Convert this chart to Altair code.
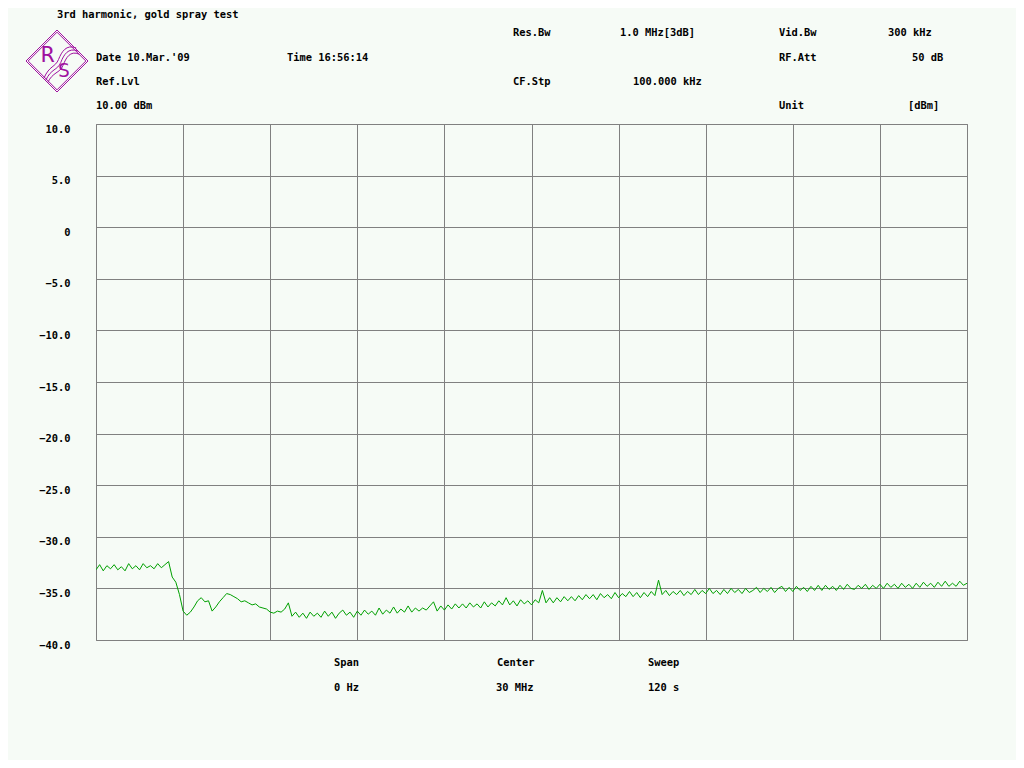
import altair as alt
import pandas as pd

# ---- data (level in dBm, one sample every 0.5 s of a 120 s sweep)
level_a = [-33.2, -32.7, -33.3, -32.8, -33.1, -32.7, -33.2, -32.9, -33.3, -32.6,
           -33.1, -32.8, -33.2, -32.6, -33.0, -32.8, -33.1, -32.6, -33.0, -32.7,
           -32.4]
level_b = [-33.9, -34.4, -35.6, -37.2, -37.6, -37.3, -36.8, -36.2, -35.9, -36.3]
level_c = [-36.2, -37.2, -36.8, -36.3, -35.9, -35.5, -35.6, -35.8, -36.0, -36.3,
           -36.2, -36.4, -36.6, -36.5, -36.8, -36.9, -37.0, -37.3, -37.4, -37.2]
level_d = [-37.3, -37.0, -36.4, -37.7, -37.3, -37.8, -37.4, -37.9, -37.3, -37.7,
           -37.4, -37.8, -37.2, -37.7, -37.3, -37.9, -37.4, -37.1, -37.6, -37.3,
           -37.8, -37.2, -37.6, -37.1, -37.5, -37.2, -37.6, -36.9, -37.5, -37.1,
           -37.4, -36.8, -37.4, -37.0, -37.3, -36.7, -37.3, -36.9, -37.2, -36.9]
level_e = [-37.1, -36.7, -36.3, -37.2, -36.7, -37.1, -36.6, -37.0, -36.5, -36.9,
           -36.5, -36.9, -36.4, -36.8, -36.5, -36.9, -36.3, -36.8, -36.4, -36.7,
           -36.2, -36.6, -35.9, -36.6, -36.2, -36.7, -36.1, -36.5, -36.2, -36.6,
           -36.1, -36.4, -35.2, -36.4, -35.9, -36.4, -35.9, -36.3, -35.8, -36.2]
level_f = [-35.8, -36.2, -35.7, -36.1, -35.6, -36.0, -35.6, -36.1, -35.5, -35.9,
           -35.6, -36.0, -35.4, -35.9, -35.5, -35.8, -35.3, -35.8, -35.4, -35.9,
           -35.4, -35.8, -35.3, -35.7, -34.2, -35.6, -35.2, -35.7, -35.3, -35.6,
           -35.2, -35.7, -35.3, -35.6, -35.1, -35.6, -35.2, -35.5, -35.0, -35.5,
           -35.2, -35.6, -35.1, -35.5, -35.0, -35.4, -35.1, -35.5, -35.0, -35.4]
level_g = [-35.2, -34.9, -35.4, -35.0, -35.3, -34.9, -35.4, -35.0, -34.8, -35.3,
           -34.9, -35.3, -34.8, -35.2, -34.9, -35.3, -34.8, -35.2, -34.7, -35.2,
           -34.7, -35.1, -34.8, -35.2, -34.7, -35.1, -34.6, -35.0, -35.1, -34.7,
           -35.0, -34.6, -35.1, -34.7, -35.0, -34.6, -35.0, -34.5, -34.9, -34.6,
           -35.0, -34.5, -34.9, -34.6, -35.0, -34.5, -34.9, -34.4, -34.8, -34.5,
           -34.9, -34.4, -34.8, -34.3, -34.8, -34.5, -34.8, -34.3, -34.7, -34.5]

levels = level_a + level_b + level_c + level_d + level_e + level_f + level_g
sample_step_s = 0.5
times = [i * sample_step_s for i in range(len(levels))]

y_ticks = [10, 5, 0, -5, -10, -15, -20, -25, -30, -35, -40]
x_ticks = [0, 12, 24, 36, 48, 60, 72, 84, 96, 108, 120]

title_text = "3rd harmonic, gold spray test"
header_items = [
    "Date 10.Mar.'09", "Time 16:56:14", "Ref.Lvl", "10.00 dBm",
    "Res.Bw", "1.0 MHz[3dB]", "Vid.Bw", "300 kHz", "RF.Att", "50 dB",
    "CF.Stp", "100.000 kHz", "Unit", "[dBm]",
]
footer_items = ["Span", "0 Hz", "Center", "30 MHz", "Sweep", "120 s"]

df = pd.DataFrame({"t": times, "level": levels})

# ---- layout (page pixels)
PX0, PY0 = 96, 124
W, H = 871, 516
FONT = "DejaVu Sans Mono"
FS = 10.4
BG = "#f6fbf6"
GRID = "#808080"
PURPLE = "#a010a0"

trace = alt.Chart(df).mark_line(color="#00a000", strokeWidth=1, clip=True).encode(
    x=alt.X("t:Q", scale=alt.Scale(domain=[0, 120], nice=False, zero=False),
            axis=alt.Axis(values=x_ticks, labels=False, ticks=False, domain=False,
                          grid=True, gridColor=GRID, gridOpacity=1, gridWidth=1, title=None)),
    y=alt.Y("level:Q", scale=alt.Scale(domain=[-40, 10], nice=False, zero=False),
            axis=alt.Axis(values=y_ticks, ticks=False, domain=False, grid=True,
                          gridColor=GRID, gridOpacity=1, gridWidth=1, title=None,
                          labelFont=FONT, labelFontSize=FS, labelFontWeight="bold",
                          labelColor="black", labelAlign="right", labelBaseline="top",
                          labelPadding=26,
                          labelExpr="datum.value == 0 ? '0' : format(datum.value, '.1f')")),
)


def txt(s, px, py, color="black", size=FS, weight="bold"):
    return alt.Chart(alt.Data(values=[{}])).mark_text(
        text=s, align="left", baseline="middle", font=FONT, fontSize=size,
        fontWeight=weight, color=color,
    ).encode(x=alt.value(px - PX0), y=alt.value(py - PY0))


header_pos = [
    (96, 58), (287, 58), (96, 82), (96, 106),
    (513, 33), (620, 33), (779, 33), (888, 33), (779, 58), (912, 58),
    (513, 82), (633, 82), (779, 106), (908, 106),
]
footer_pos = [(334, 663), (334, 688), (497, 663), (496, 688), (648, 663), (648, 688)]

layers = [trace, txt(title_text, 57, 15)]
layers += [txt(s, *p) for s, p in zip(header_items, header_pos)]
layers += [txt(s, *p) for s, p in zip(footer_items, footer_pos)]

# ---- R&S style logo
LX, LY = 57, 61


def logo_shape(path, size, sw=1):
    return alt.Chart(alt.Data(values=[{}])).mark_point(
        shape=path, size=size, filled=False, color=PURPLE, strokeWidth=sw, opacity=1,
    ).encode(x=alt.value(LX - PX0), y=alt.value(LY - PY0))


layers.append(logo_shape("M0,-1L1,0L0,1L-1,0Z", 62 * 62))
layers.append(logo_shape("M0,-0.93L0.93,0L0,0.93L-0.93,0Z", 62 * 62))
layers.append(logo_shape(
    "M0.62,-0.42C0.3,-0.55 0.15,-0.3 0.05,-0.05C-0.05,0.2 -0.25,0.15 -0.42,0.55"
    "M0.68,-0.32C0.36,-0.45 0.22,-0.2 0.12,0.05C0.02,0.3 -0.2,0.25 -0.36,0.62"
    "M0.72,-0.22C0.42,-0.35 0.29,-0.1 0.19,0.15C0.09,0.4 -0.14,0.35 -0.3,0.7",
    62 * 62))
layers.append(txt("R", 41, 55, color=PURPLE, size=22, weight="normal"))
layers.append(txt("S", 58, 71, color=PURPLE, size=20, weight="normal"))

chart = alt.layer(*layers).properties(
    width=W, height=H,
    autosize=alt.AutoSizeParams(type="none"),
    padding={"left": PX0 - 8, "top": PY0 - 8, "right": 1024 - 8 - PX0 - W, "bottom": 768 - 8 - PY0 - H},
    background=BG,
).configure_view(stroke=GRID, strokeWidth=1)

chart.save("out.html", embed_options={"renderer": "svg", "actions": False})
